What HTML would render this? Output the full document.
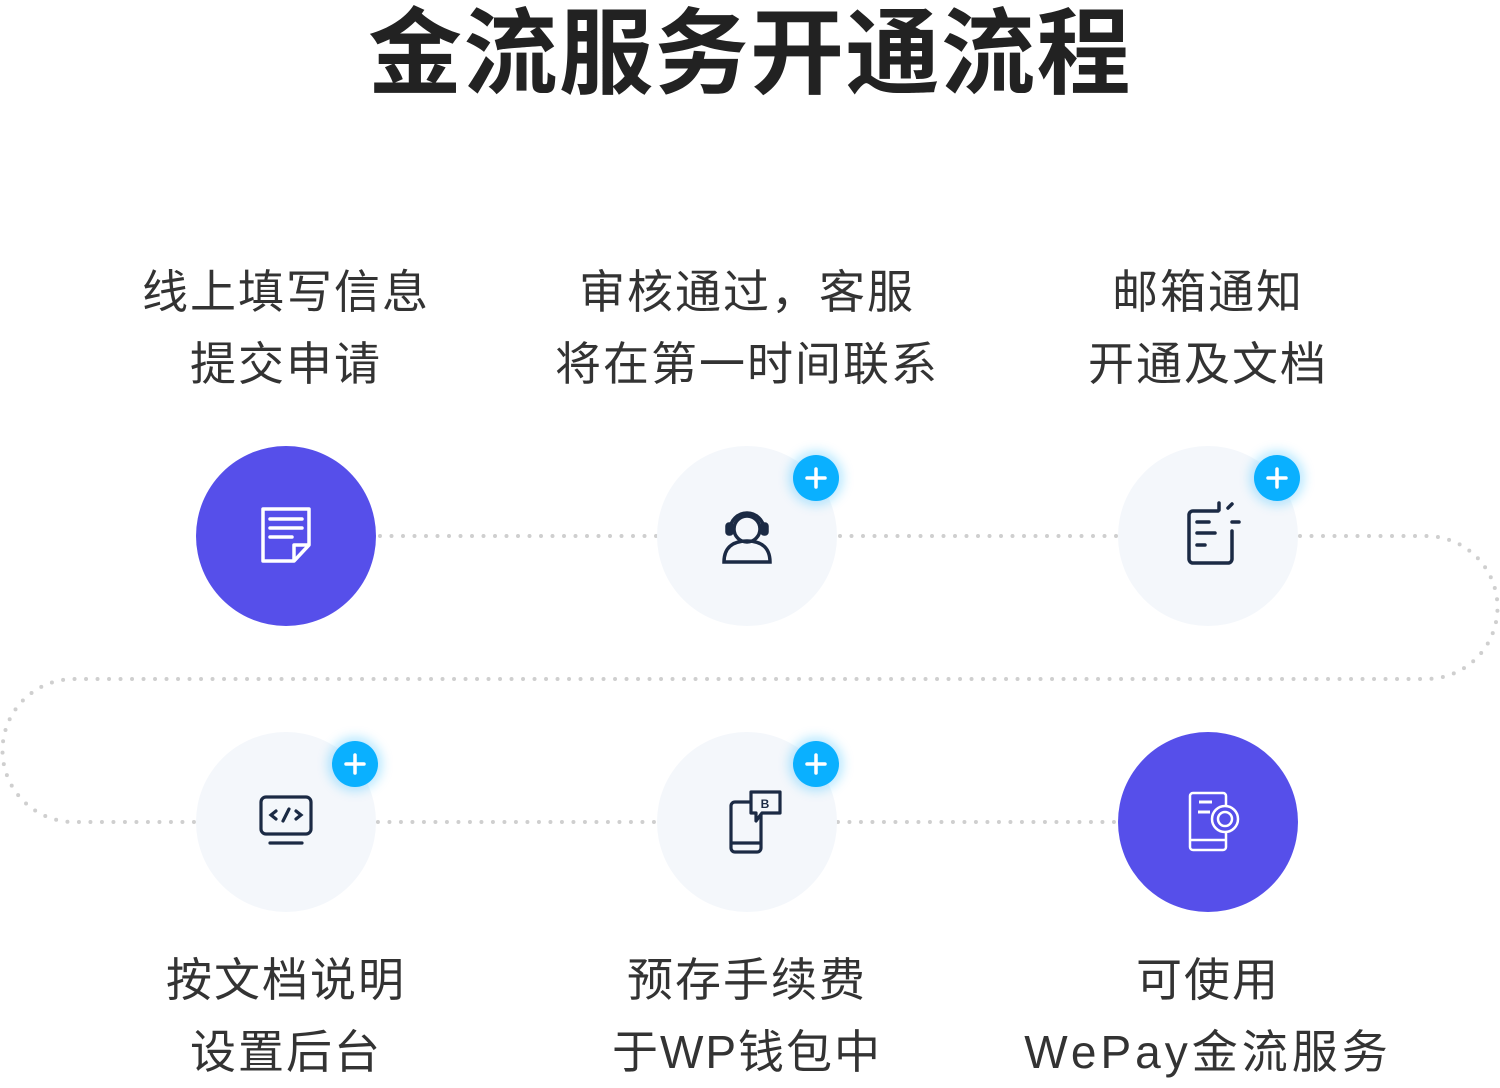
<!DOCTYPE html>
<html><head><meta charset="utf-8"><style>
html,body{margin:0;padding:0;background:#fff;width:1500px;height:1088px;overflow:hidden}
svg{display:block}
text{font-family:"Liberation Sans","Noto Sans CJK SC",sans-serif}
</style></head><body>
<svg width="1500" height="1088" viewBox="0 0 1500 1088" xmlns="http://www.w3.org/2000/svg">
<defs>
<filter id="glow" x="-1" y="-1" width="3" height="3"><feGaussianBlur stdDeviation="6"/></filter>
</defs>
<text x="750" y="86" text-anchor="middle" font-size="94" font-weight="bold" fill="#222" letter-spacing="1.5">金流服务开通流程</text>

<g font-size="46" fill="#333" text-anchor="middle" letter-spacing="2">
<text x="286" y="308">线上填写信息</text>
<text x="286" y="380">提交申请</text>
<text x="747" y="308">审核通过，客服</text>
<text x="747" y="380">将在第一时间联系</text>
<text x="1208" y="308">邮箱通知</text>
<text x="1208" y="380">开通及文档</text>
<text x="286" y="996">按文档说明</text>
<text x="286" y="1068">设置后台</text>
<text x="747" y="996">预存手续费</text>
<text x="747" y="1068">于WP钱包中</text>
<text x="1208" y="996">可使用</text>
<text x="1208" y="1068" letter-spacing="4">WePay金流服务</text>
</g>

<path d="M380 536 H1426 A71.5 71.5 0 0 1 1426 679 H74 A71.5 71.5 0 0 0 74 822 H1120" fill="none" stroke="#cfcfcf" stroke-width="4" stroke-linecap="round" stroke-dasharray="0 11.5"/>

<circle cx="286" cy="536" r="90" fill="#564fea"/>
<circle cx="747" cy="536" r="90" fill="#f4f7fb"/>
<circle cx="1208" cy="536" r="90" fill="#f4f7fb"/>
<circle cx="286" cy="822" r="90" fill="#f4f7fb"/>
<circle cx="747" cy="822" r="90" fill="#f4f7fb"/>
<circle cx="1208" cy="822" r="90" fill="#564fea"/>

<g fill="none" stroke="#fff" stroke-width="3.5" stroke-linejoin="round">
<path d="M263 509 H309 V545 L294 561 H263 Z"/>
<path d="M294 561 V545 H309"/>
<path d="M270 519 H302 M270 528 H302 M270 537 H292" stroke-linecap="round"/>
</g>

<g fill="none" stroke="#1b2a44" stroke-width="3.5">
<circle cx="747" cy="529" r="13"/>
<path d="M730 530 a17 17 0 0 1 34 0"/>
<rect x="727" y="524" width="5" height="10" rx="2" fill="#1b2a44"/>
<rect x="762" y="524" width="5" height="10" rx="2" fill="#1b2a44"/>
<path d="M724 562 C724 545 736 541 747 541 C758 541 770 545 770 562 Z"/>
</g>

<g fill="none" stroke="#1b2a44" stroke-width="3.5" stroke-linecap="round">
<path d="M1218 511 H1193 a4 4 0 0 0 -4 4 V559 a4 4 0 0 0 4 4 H1228 a4 4 0 0 0 4 -4 V531"/>
<path d="M1197 522 H1209 M1197 533 H1215 M1197 545 H1205"/>
<path d="M1219 503 V510 M1228 508 L1232 504 M1232 522 H1239"/>
</g>

<g fill="none" stroke="#1b2a44" stroke-width="3.2" stroke-linecap="round">
<rect x="261" y="797" width="50" height="37" rx="5"/>
<path d="M270 843 H302"/>
<path d="M276 811 L271 815 L276 819 M296 811 L301 815 L296 819 M289 809 L283 821"/>
</g>

<g fill="none" stroke="#1b2a44" stroke-width="3.2" stroke-linejoin="round">
<rect x="731" y="802" width="30" height="50" rx="4"/>
<path d="M731 843 H761"/>
<path d="M751 792 H780 V813 H762 L756 821 V813 H751 Z" fill="#f4f7fb"/>
<text x="765" y="808" font-size="12" font-weight="bold" fill="#1b2a44" stroke="none" text-anchor="middle">B</text>
</g>

<g fill="none" stroke="#fff" stroke-width="2.5">
<rect x="1190" y="793" width="36" height="57" rx="3"/>
<path d="M1190 840 H1226"/>
<path d="M1199 802 H1212 M1198 812 H1210" stroke-width="3"/>
<circle cx="1225" cy="819" r="13" fill="#564fea"/>
<circle cx="1225" cy="819" r="7"/>
</g>

<g>
<circle cx="816" cy="478" r="26" fill="#0ab0ff" opacity=".35" filter="url(#glow)"/>
<circle cx="816" cy="478" r="23" fill="#0ab0ff"/>
<circle cx="1277" cy="478" r="26" fill="#0ab0ff" opacity=".35" filter="url(#glow)"/>
<circle cx="1277" cy="478" r="23" fill="#0ab0ff"/>
<circle cx="355" cy="764" r="26" fill="#0ab0ff" opacity=".35" filter="url(#glow)"/>
<circle cx="355" cy="764" r="23" fill="#0ab0ff"/>
<circle cx="816" cy="764" r="26" fill="#0ab0ff" opacity=".35" filter="url(#glow)"/>
<circle cx="816" cy="764" r="23" fill="#0ab0ff"/>
<g stroke="#fff" stroke-width="3.5" stroke-linecap="round">
<path d="M816 469 V487 M807 478 H825"/>
<path d="M1277 469 V487 M1268 478 H1286"/>
<path d="M355 755 V773 M346 764 H364"/>
<path d="M816 755 V773 M807 764 H825"/>
</g>
</g>
</svg>
</body></html>
